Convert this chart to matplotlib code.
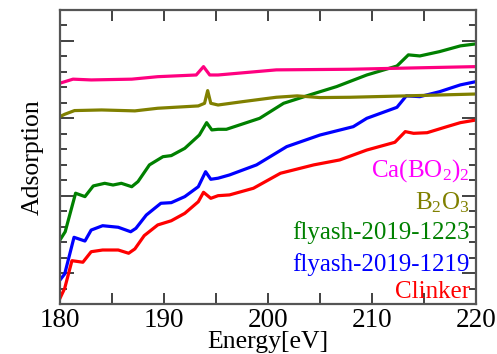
import matplotlib
matplotlib.use("Agg")
import matplotlib.pyplot as plt
from matplotlib.ticker import MultipleLocator, FixedLocator

plt.rcParams['font.family'] = ['Liberation Serif', 'DejaVu Serif']
plt.rcParams['mathtext.fontset'] = 'custom'
plt.rcParams['mathtext.rm'] = 'Liberation Serif'
plt.rcParams['mathtext.it'] = 'Liberation Serif:italic'

# Clinker
clinker_e = [180, 180.45, 181.15, 182.2, 183.0, 184.1, 185.6, 186.6, 187.2, 188.1, 189.4, 190.7,
             192.0, 193.3, 193.8, 194.5, 195.2, 196.3, 198.6, 201.2, 204.4, 206.9, 209.5, 212.2,
             213.2, 214.0, 215.3, 217.2, 218.5, 220]
clinker_y = [0.37, 1.01, 2.80, 2.70, 3.38, 3.49, 3.49, 3.28, 3.56, 4.42, 5.11, 5.38,
             5.86, 6.61, 7.22, 6.83, 7.00, 7.05, 7.48, 8.45, 8.99, 9.31, 9.95, 10.45,
             11.14, 11.03, 11.07, 11.46, 11.72, 11.89]

# flyash-2019-1219
fa1219_e = [180, 180.45, 181.35, 182.4, 183.0, 184.1, 185.6, 186.8, 187.3, 188.3, 189.7, 190.7,
            192.0, 193.3, 194.0, 194.5, 195.2, 196.3, 198.9, 201.8, 205.0, 208.2, 209.5, 212.4,
            213.3, 214.6, 216.5, 218.5, 220]
fa1219_y = [1.55, 1.94, 4.31, 4.07, 4.78, 5.06, 4.96, 4.67, 4.89, 5.75, 6.51, 6.55,
            6.94, 7.58, 8.55, 8.06, 8.13, 8.34, 8.99, 10.17, 10.92, 11.46, 12.00, 12.71,
            13.45, 13.40, 13.72, 14.16, 14.37]

# flyash-2019-1223
fa1223_e = [180, 180.5, 181.5, 182.4, 183.2, 184.3, 185.1, 185.9, 186.9, 187.5, 188.6, 189.9,
            190.7, 192.0, 193.4, 194.1, 194.6, 195.2, 196.0, 199.2, 201.5, 204.0, 206.6, 209.5,
            212.4, 213.5, 214.6, 216.5, 218.5, 220]
fa1223_y = [4.14, 4.67, 7.16, 6.94, 7.63, 7.80, 7.69, 7.80, 7.58, 7.91, 8.99, 9.52,
            9.59, 10.06, 10.92, 11.72, 11.25, 11.29, 11.29, 12.00, 12.97, 13.51, 14.05, 14.80,
            15.38, 16.10, 16.03, 16.31, 16.68, 16.81]

# B2O3
b2o3_e = [180, 180.45, 181.4, 184.0, 187.2, 189.4, 193.3, 193.9, 194.2, 194.5, 195.2, 197.6,
          200.8, 202.8, 205.0, 207.9, 213.3, 220]
b2o3_y = [12.11, 12.26, 12.50, 12.54, 12.48, 12.65, 12.80, 12.97, 13.79, 12.97, 12.86, 13.08,
          13.36, 13.45, 13.34, 13.36, 13.45, 13.57]

# Ca(BO2)2
cabo_e = [180, 181.25, 183.0, 186.9, 189.4, 193.1, 193.8, 194.4, 195.2, 200.8, 207.9, 220]
cabo_y = [14.27, 14.53, 14.48, 14.53, 14.69, 14.80, 15.34, 14.80, 14.80, 15.13, 15.17, 15.34]

series = [
    (clinker_e, clinker_y, '#ff0000'),
    (fa1219_e, fa1219_y, '#0000ff'),
    (fa1223_e, fa1223_y, '#008000'),
    (b2o3_e, b2o3_y, '#808000'),
    (cabo_e, cabo_y, '#ff0080'),
]

labels = ['Ca(BO$_2$)$_2$', 'B$_2$O$_3$', 'flyash-2019-1223', 'flyash-2019-1219', 'Clinker']
label_colors = ['#ff00ff', '#808000', '#008000', '#0000ff', '#ff0000']
label_y = [8.6, 6.55, 4.65, 2.55, 0.8]

fig = plt.figure(figsize=(4.97, 3.54), dpi=100)
ax = fig.add_axes([0.1207, 0.1412, 0.837, 0.8306])

for e, y, c in series:
    ax.plot(e, y, color=c, lw=2.3, solid_joinstyle='round')

ax.set_xlim(180, 220)
ax.set_ylim(0, 19)
ax.xaxis.set_major_locator(MultipleLocator(10))
ax.xaxis.set_minor_locator(MultipleLocator(5))
ax.yaxis.set_major_locator(FixedLocator([2, 7, 12, 17]))
ax.yaxis.set_minor_locator(MultipleLocator(1))
ax.set_yticklabels([])
ax.tick_params(axis='both', which='both', direction='in', top=True, right=True, color='#333333', width=1.3)
ax.tick_params(axis='both', which='major', length=8, labelsize=19.5, pad=3)
ax.tick_params(axis='y', which='major', length=10)
ax.tick_params(axis='both', which='minor', length=5)
ax.tick_params(axis='x', which='minor', length=8)
for s in ax.spines.values():
    s.set_color('#555555')
    s.set_linewidth(1.6)

ax.set_xlabel('Energy[eV]', fontsize=18.5, labelpad=-1.5)
ax.set_ylabel('Adsorption', fontsize=18.5, labelpad=8)

for t, c, yy in zip(labels, label_colors, label_y):
    ax.text(0.985, yy, t, transform=ax.get_yaxis_transform(), ha='right', va='center',
            color=c, fontsize=18)

fig.savefig('out.png', dpi=100)
